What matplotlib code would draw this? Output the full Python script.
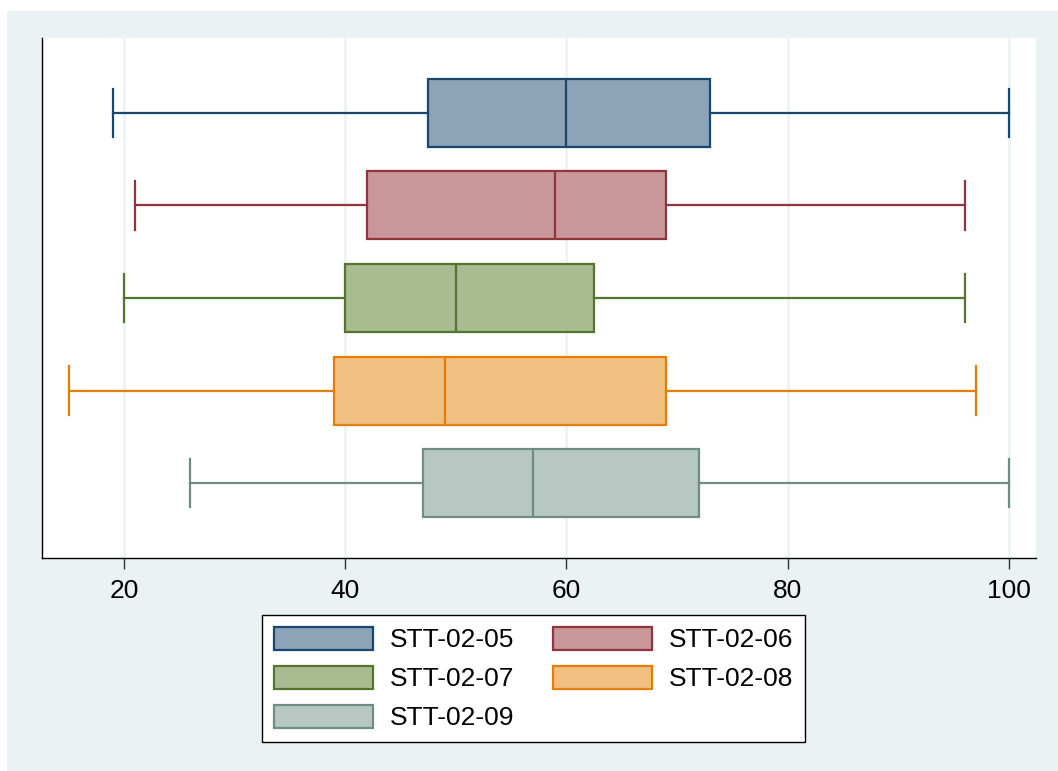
import matplotlib
matplotlib.use("Agg")
import matplotlib.pyplot as plt
from matplotlib.patches import Patch, Rectangle

plt.rcParams['font.family'] = ['Liberation Sans', 'DejaVu Sans']

labels = ["STT-02-05", "STT-02-06", "STT-02-07", "STT-02-08", "STT-02-09"]
mins = [19, 21, 20, 15, 26]
q1s = [47.5, 42, 40, 39, 47]
medians = [60, 59, 50, 49, 57]
q3s = [73, 69, 62.5, 69, 72]
maxs = [100, 96, 96, 97, 100]

edge_colors = ["#1a476f", "#90353b", "#55752f", "#e37e00", "#6e8e84"]
fill_colors = ["#8da3b8", "#c9979a", "#aabb92", "#f1bf82", "#b7c7c1"]
bg = "#eaf2f3"

fig = plt.figure(figsize=(10.58, 7.71), dpi=100)
fig.patch.set_facecolor("white")
fig.patches.append(Rectangle((7 / 1058, 0), 1 - 7 / 1058, 1 - 11 / 771,
                             transform=fig.transFigure, facecolor=bg,
                             edgecolor="none", zorder=-10))

ax = fig.add_axes([42 / 1058, 1 - 558 / 771, (1036 - 42) / 1058, (558 - 38) / 771])
ax.set_facecolor("white")

for i in range(len(labels)):
    stats = [{"whislo": mins[i], "q1": q1s[i], "med": medians[i],
              "q3": q3s[i], "whishi": maxs[i], "fliers": []}]
    c = edge_colors[i]
    ax.bxp(stats, positions=[i + 1], vert=False, widths=0.735,
           capwidths=0.52, patch_artist=True, showfliers=False,
           boxprops=dict(facecolor=fill_colors[i], edgecolor=c, linewidth=1.6),
           medianprops=dict(color=c, linewidth=1.6),
           whiskerprops=dict(color=c, linewidth=1.6),
           capprops=dict(color=c, linewidth=1.6),
           manage_ticks=False, zorder=3)

ax.set_xlim(12.59, 102.44)
ax.set_ylim(5.81, 0.19)
ax.set_xticks([20, 40, 60, 80, 100])
ax.set_yticks([])
ax.grid(axis="x", color=bg, linewidth=1.8, zorder=0)
ax.set_axisbelow(True)
for s in ["top", "right"]:
    ax.spines[s].set_visible(False)
for s in ["left", "bottom"]:
    ax.spines[s].set_color("black")
    ax.spines[s].set_linewidth(1.0)
ax.tick_params(axis="x", length=8, width=1, color="#333333",
               labelsize=19, pad=7)

order = [0, 2, 4, 1, 3]
handles = [Patch(facecolor=fill_colors[i], edgecolor=edge_colors[i], linewidth=1.6)
           for i in order]
leg = fig.legend(handles, [labels[i] for i in order], ncol=2,
                 loc="center", bbox_to_anchor=(533.5 / 1058, 1 - 678.5 / 771),
                 fontsize=19, frameon=True, fancybox=False, framealpha=1,
                 facecolor="white", edgecolor="black",
                 handlelength=3.75, handleheight=1.0,
                 handletextpad=0.65, columnspacing=1.45, labelspacing=0.5,
                 borderpad=0.45, borderaxespad=0)
leg.get_frame().set_linewidth(1.0)

fig.savefig("out.png", dpi=100)
